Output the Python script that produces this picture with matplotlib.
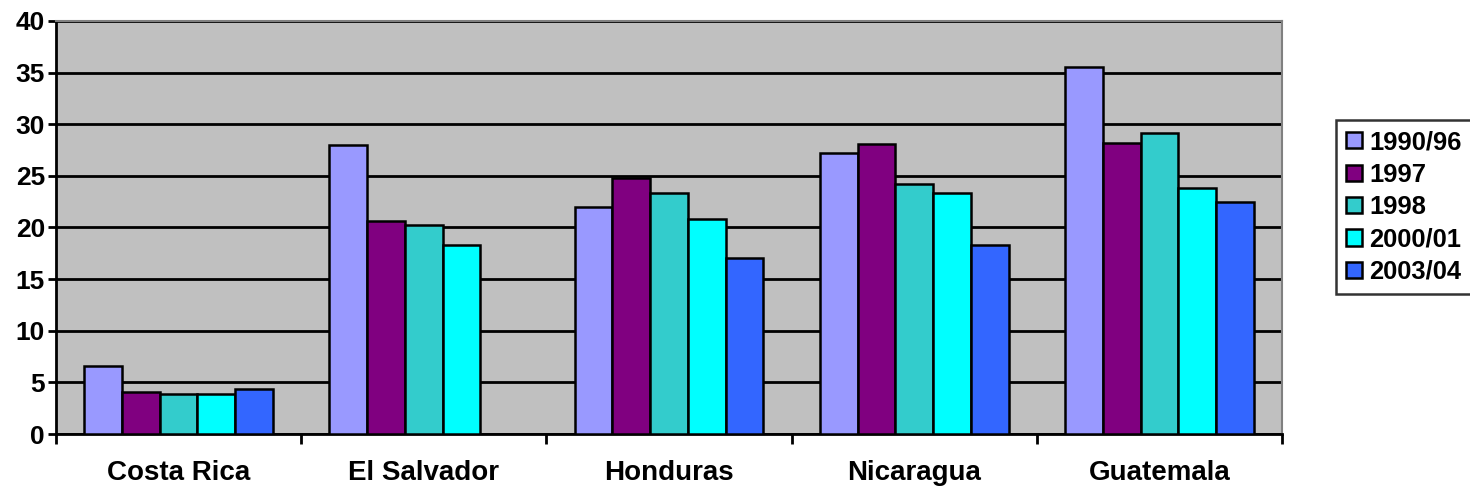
import numpy as np
import matplotlib.pyplot as plt

countries = ["Costa Rica", "El Salvador", "Honduras", "Nicaragua", "Guatemala"]
periods = ["1990/96", "1997", "1998", "2000/01", "2003/04"]
colors = ["#9999FF", "#800080", "#33CCCC", "#00FFFF", "#3366FF"]

v_1990_96 = [6.6, 28.0, 22.0, 27.2, 35.5]
v_1997 = [4.1, 20.6, 24.8, 28.1, 28.2]
v_1998 = [3.9, 20.2, 23.3, 24.2, 29.2]
v_2000_01 = [3.9, 18.3, 20.8, 23.3, 23.8]
v_2003_04 = [4.4, np.nan, 17.0, 18.3, 22.5]
series = [v_1990_96, v_1997, v_1998, v_2000_01, v_2003_04]

FONT = "Liberation Sans"
plt.rcParams['font.family'] = [FONT, 'DejaVu Sans']
plt.rcParams['font.weight'] = 'bold'

fig = plt.figure(figsize=(14.7, 4.9), dpi=100)
ax = fig.add_axes([56 / 1470, 1 - 434 / 490, (1282 - 56) / 1470, (434 - 21) / 490])
ax.set_facecolor("#C0C0C0")

x = np.arange(len(countries))
w = 0.154
for i, (vals, c, p) in enumerate(zip(series, colors, periods)):
    ax.bar(x + (i - 2) * w, vals, width=w, color=c, edgecolor='black',
           linewidth=1.8, label=p, zorder=3)

ax.set_xlim(-0.5, len(countries) - 0.5)
ax.set_ylim(0, 40)
ax.set_yticks(range(0, 41, 5))
ax.yaxis.grid(True, color='black', linewidth=2, zorder=1)
ax.set_axisbelow(True)

ax.set_xticks(x)
ax.set_xticklabels(countries)
ax.set_xticks(np.arange(-0.5, len(countries)), minor=True)
ax.tick_params(axis='x', which='major', length=0, pad=19, labelsize=20)
ax.tick_params(axis='x', which='minor', length=7, width=2, direction='out')
ax.tick_params(axis='y', length=6, width=2, labelsize=19, pad=2)

for s in ['left', 'bottom']:
    ax.spines[s].set_linewidth(2)
    ax.spines[s].set_color('black')
for s in ['top', 'right']:
    ax.spines[s].set_linewidth(1.5)
    ax.spines[s].set_color('#808080')

leg = fig.legend(loc='upper left', bbox_to_anchor=(1336 / 1470, 1 - 120 / 490),
                 frameon=True, fancybox=False, fontsize=18.4, handlelength=0.6,
                 handleheight=0.6, handletextpad=0.3, labelspacing=0.33,
                 borderpad=0.4, borderaxespad=0)
leg.get_frame().set_edgecolor('black')
leg.get_frame().set_linewidth(1.8)
for t in leg.get_texts():
    t.set_fontweight('bold')

fig.savefig("out.png", dpi=100)
